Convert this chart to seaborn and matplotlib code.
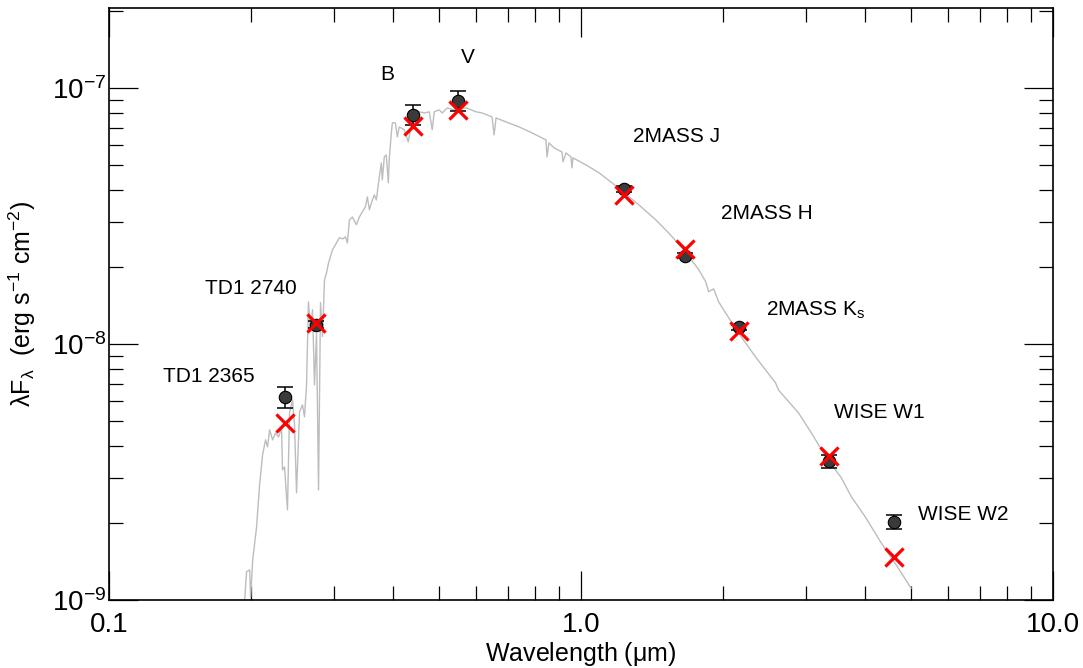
import matplotlib
matplotlib.use("Agg")
import matplotlib.pyplot as plt
from matplotlib.ticker import FixedLocator, FuncFormatter, LogLocator, NullFormatter
import numpy as np
import pandas as pd
import seaborn as sns

# === photometry ===
BANDS = ["TD1 2365", "TD1 2740", "B", "V", "2MASS J", "2MASS H",
         "2MASS K$_{\\rm s}$", "WISE W1", "WISE W2"]
WAVE = [0.2365, 0.274, 0.44, 0.55, 1.235, 1.662, 2.159, 3.35, 4.6]
FLUX_OBS = [6.2e-9, 1.19e-8, 7.85e-8, 8.9e-8, 4.03e-8, 2.21e-8, 1.16e-8, 3.49e-9, 2.02e-9]
FLUX_ERR = [0.6e-9, 0.4e-9, 0.7e-8, 0.8e-8, 0.1e-8, 0.05e-8, 0.03e-8, 0.2e-9, 0.13e-9]
FLUX_MODEL = [4.9e-9, 1.21e-8, 7.1e-8, 8.2e-8, 3.82e-8, 2.35e-8, 1.12e-8, 3.65e-9, 1.47e-9]

# label anchor (left edge, vertical centre) in data units
LABEL_X = [0.130, 0.160, 0.375, 0.557, 1.29, 1.98, 2.47, 3.44, 5.18]
LABEL_Y = [7.43e-9, 1.64e-8, 1.124e-7, 1.31e-7, 6.44e-8, 3.22e-8, 1.35e-8, 5.38e-9, 2.15e-9]

# === model spectrum ===
SPEC_WAVE = [
    0.1939, 0.1957, 0.1987, 0.1996, 0.2016, 0.2055, 0.2085, 0.2116, 0.2147, 0.2168,
    0.2190, 0.2222, 0.2254, 0.2288, 0.2321, 0.2332, 0.2355, 0.2389, 0.2413, 0.2449,
    0.2473, 0.2497, 0.2534, 0.2571, 0.2596, 0.2622, 0.2647, 0.2673, 0.2700, 0.2726,
    0.2753, 0.2780, 0.2807, 0.2835, 0.2862, 0.2890, 0.2919, 0.2976, 0.3034, 0.3079,
    0.3125, 0.3170, 0.3201, 0.3232, 0.3280, 0.3344, 0.3393, 0.3443, 0.3494, 0.3528,
    0.3563, 0.3597, 0.3650, 0.3686, 0.3740, 0.3777, 0.3795, 0.3832, 0.3869, 0.3908,
    0.3927, 0.3966, 0.3985, 0.4044, 0.4083, 0.4123, 0.4224, 0.4307, 0.4392, 0.4545,
    0.4657, 0.4771, 0.4841, 0.4889, 0.5009, 0.5083, 0.5208, 0.5388, 0.5713, 0.5997,
    0.6174, 0.6482, 0.6546, 0.6610, 0.6940, 0.7393, 0.7878, 0.8433, 0.8474, 0.8557,
    0.8768, 0.9118, 0.9161, 0.9296, 0.9524, 0.9570, 0.9618, 1.025, 1.092, 1.163,
    1.221, 1.327, 1.441, 1.535, 1.651, 1.777, 1.838, 1.865, 1.911, 1.958,
    2.137, 2.344, 2.585, 2.622, 2.890, 3.079, 3.312, 3.563, 3.741, 4.005,
    4.329, 4.657, 5.010,
]
SPEC_FLUX = [
    1.00e-9, 1.29e-9, 1.31e-9, 1.02e-9, 1.43e-9, 1.93e-9, 2.81e-9, 3.69e-9, 4.22e-9, 3.96e-9,
    4.62e-9, 4.22e-9, 4.49e-9, 4.33e-9, 4.70e-9, 3.22e-9, 3.31e-9, 2.25e-9, 5.38e-9, 6.04e-9,
    4.83e-9, 2.62e-9, 5.43e-9, 5.78e-9, 5.19e-9, 6.92e-9, 1.46e-8, 1.13e-8, 1.36e-8, 6.92e-9,
    1.10e-8, 2.69e-9, 1.45e-8, 1.07e-8, 1.78e-8, 1.89e-8, 2.07e-8, 2.33e-8, 2.48e-8, 2.60e-8,
    2.57e-8, 2.62e-8, 2.48e-8, 3.05e-8, 3.13e-8, 2.92e-8, 3.13e-8, 3.28e-8, 3.43e-8, 3.75e-8,
    3.34e-8, 3.55e-8, 3.82e-8, 3.65e-8, 4.49e-8, 5.09e-8, 4.37e-8, 5.38e-8, 5.47e-8, 4.26e-8,
    5.33e-8, 6.67e-8, 7.30e-8, 7.30e-8, 6.44e-8, 7.04e-8, 6.86e-8, 6.15e-8, 7.50e-8, 8.06e-8,
    7.98e-8, 8.06e-8, 6.86e-8, 8.06e-8, 8.20e-8, 7.98e-8, 8.35e-8, 8.20e-8, 8.35e-8, 8.06e-8,
    7.98e-8, 7.70e-8, 6.55e-8, 7.63e-8, 7.36e-8, 7.04e-8, 6.67e-8, 6.26e-8, 5.38e-8, 6.10e-8,
    5.83e-8, 5.62e-8, 5.14e-8, 5.57e-8, 5.38e-8, 4.87e-8, 5.33e-8, 5.00e-8, 4.66e-8, 4.26e-8,
    3.96e-8, 3.49e-8, 3.05e-8, 2.71e-8, 2.33e-8, 1.95e-8, 1.75e-8, 1.60e-8, 1.64e-8, 1.46e-8,
    1.13e-8, 8.90e-9, 7.04e-9, 6.61e-9, 5.38e-9, 4.49e-9, 3.59e-9, 3.00e-9, 2.53e-9, 2.11e-9,
    1.67e-9, 1.37e-9, 1.11e-9,
]


def draw_sed():
    sns.set_style("ticks")
    plt.rcParams["font.family"] = ["Liberation Sans", "DejaVu Sans"]
    plt.rcParams["mathtext.fontset"] = "custom"
    plt.rcParams["mathtext.rm"] = "Liberation Sans"
    plt.rcParams["mathtext.it"] = "Liberation Sans:italic"
    plt.rcParams["mathtext.default"] = "regular"
    # plain black text everywhere, like the original
    for key in ["text.color", "axes.labelcolor", "xtick.color", "ytick.color", "axes.edgecolor"]:
        plt.rcParams[key] = "black"

    spec = pd.DataFrame({"wave": SPEC_WAVE, "flux": SPEC_FLUX})
    phot = pd.DataFrame({"wave": WAVE, "obs": FLUX_OBS, "err": FLUX_ERR, "model": FLUX_MODEL})

    fig = plt.figure(figsize=(10.83, 6.68), dpi=100)
    ax = fig.add_axes([0.1006, 0.1018, 0.8716, 0.8862])
    ax.set_xscale("log")
    ax.set_yscale("log")

    sns.lineplot(data=spec, x="wave", y="flux", sort=False, estimator=None,
                 color="#bdbdbd", lw=1.0, ax=ax, zorder=1)
    ax.errorbar(phot["wave"], phot["obs"], yerr=phot["err"], fmt="none",
                ecolor="black", elinewidth=1.1, capsize=6, capthick=1.1, zorder=2)
    sns.scatterplot(data=phot, x="wave", y="obs", marker="o", s=80,
                    color="#3a3a3a", edgecolor="black", linewidth=0.8, ax=ax, zorder=3)
    sns.scatterplot(data=phot, x="wave", y="model", marker="x", s=170,
                    color="red", linewidth=2.3, ax=ax, zorder=4)

    for name, lx, ly in zip(BANDS, LABEL_X, LABEL_Y):
        ax.text(lx, ly, name, fontsize=15, ha="left", va="center", color="black")

    ax.set_xlim(0.1, 10.0)
    ax.set_ylim(1e-9, 2.05e-7)

    ax.xaxis.set_major_locator(FixedLocator([0.1, 1.0, 10.0]))
    ax.xaxis.set_major_formatter(FuncFormatter(lambda v, _: f"{v:.1f}"))
    ax.xaxis.set_minor_locator(LogLocator(base=10, subs=np.arange(2, 10)))
    ax.xaxis.set_minor_formatter(NullFormatter())
    ax.yaxis.set_major_locator(FixedLocator([1e-9, 1e-8, 1e-7]))
    ax.yaxis.set_major_formatter(FuncFormatter(lambda v, _: r"$10^{%d}$" % round(np.log10(v))))
    ax.yaxis.set_minor_locator(LogLocator(base=10, subs=np.arange(2, 10)))
    ax.yaxis.set_minor_formatter(NullFormatter())

    ax.tick_params(which="both", direction="in", top=True, right=True, width=0.9, color="black")
    ax.tick_params(which="major", length=21, labelsize=20)
    ax.tick_params(which="minor", length=10)
    ax.tick_params(axis="x", which="major", pad=9)
    ax.tick_params(axis="y", which="major", pad=2)
    for sp in ax.spines.values():
        sp.set_linewidth(1.2)
        sp.set_color("black")

    ax.set_xlabel(r"Wavelength ($\mu$m)", fontsize=18, labelpad=1)
    ax.set_ylabel(r"$\lambda$F$_\lambda$  (erg s$^{-1}$ cm$^{-2}$)", fontsize=18, labelpad=10)

    fig.savefig("out.png", dpi=100)


if __name__ == "__main__":
    draw_sed()
